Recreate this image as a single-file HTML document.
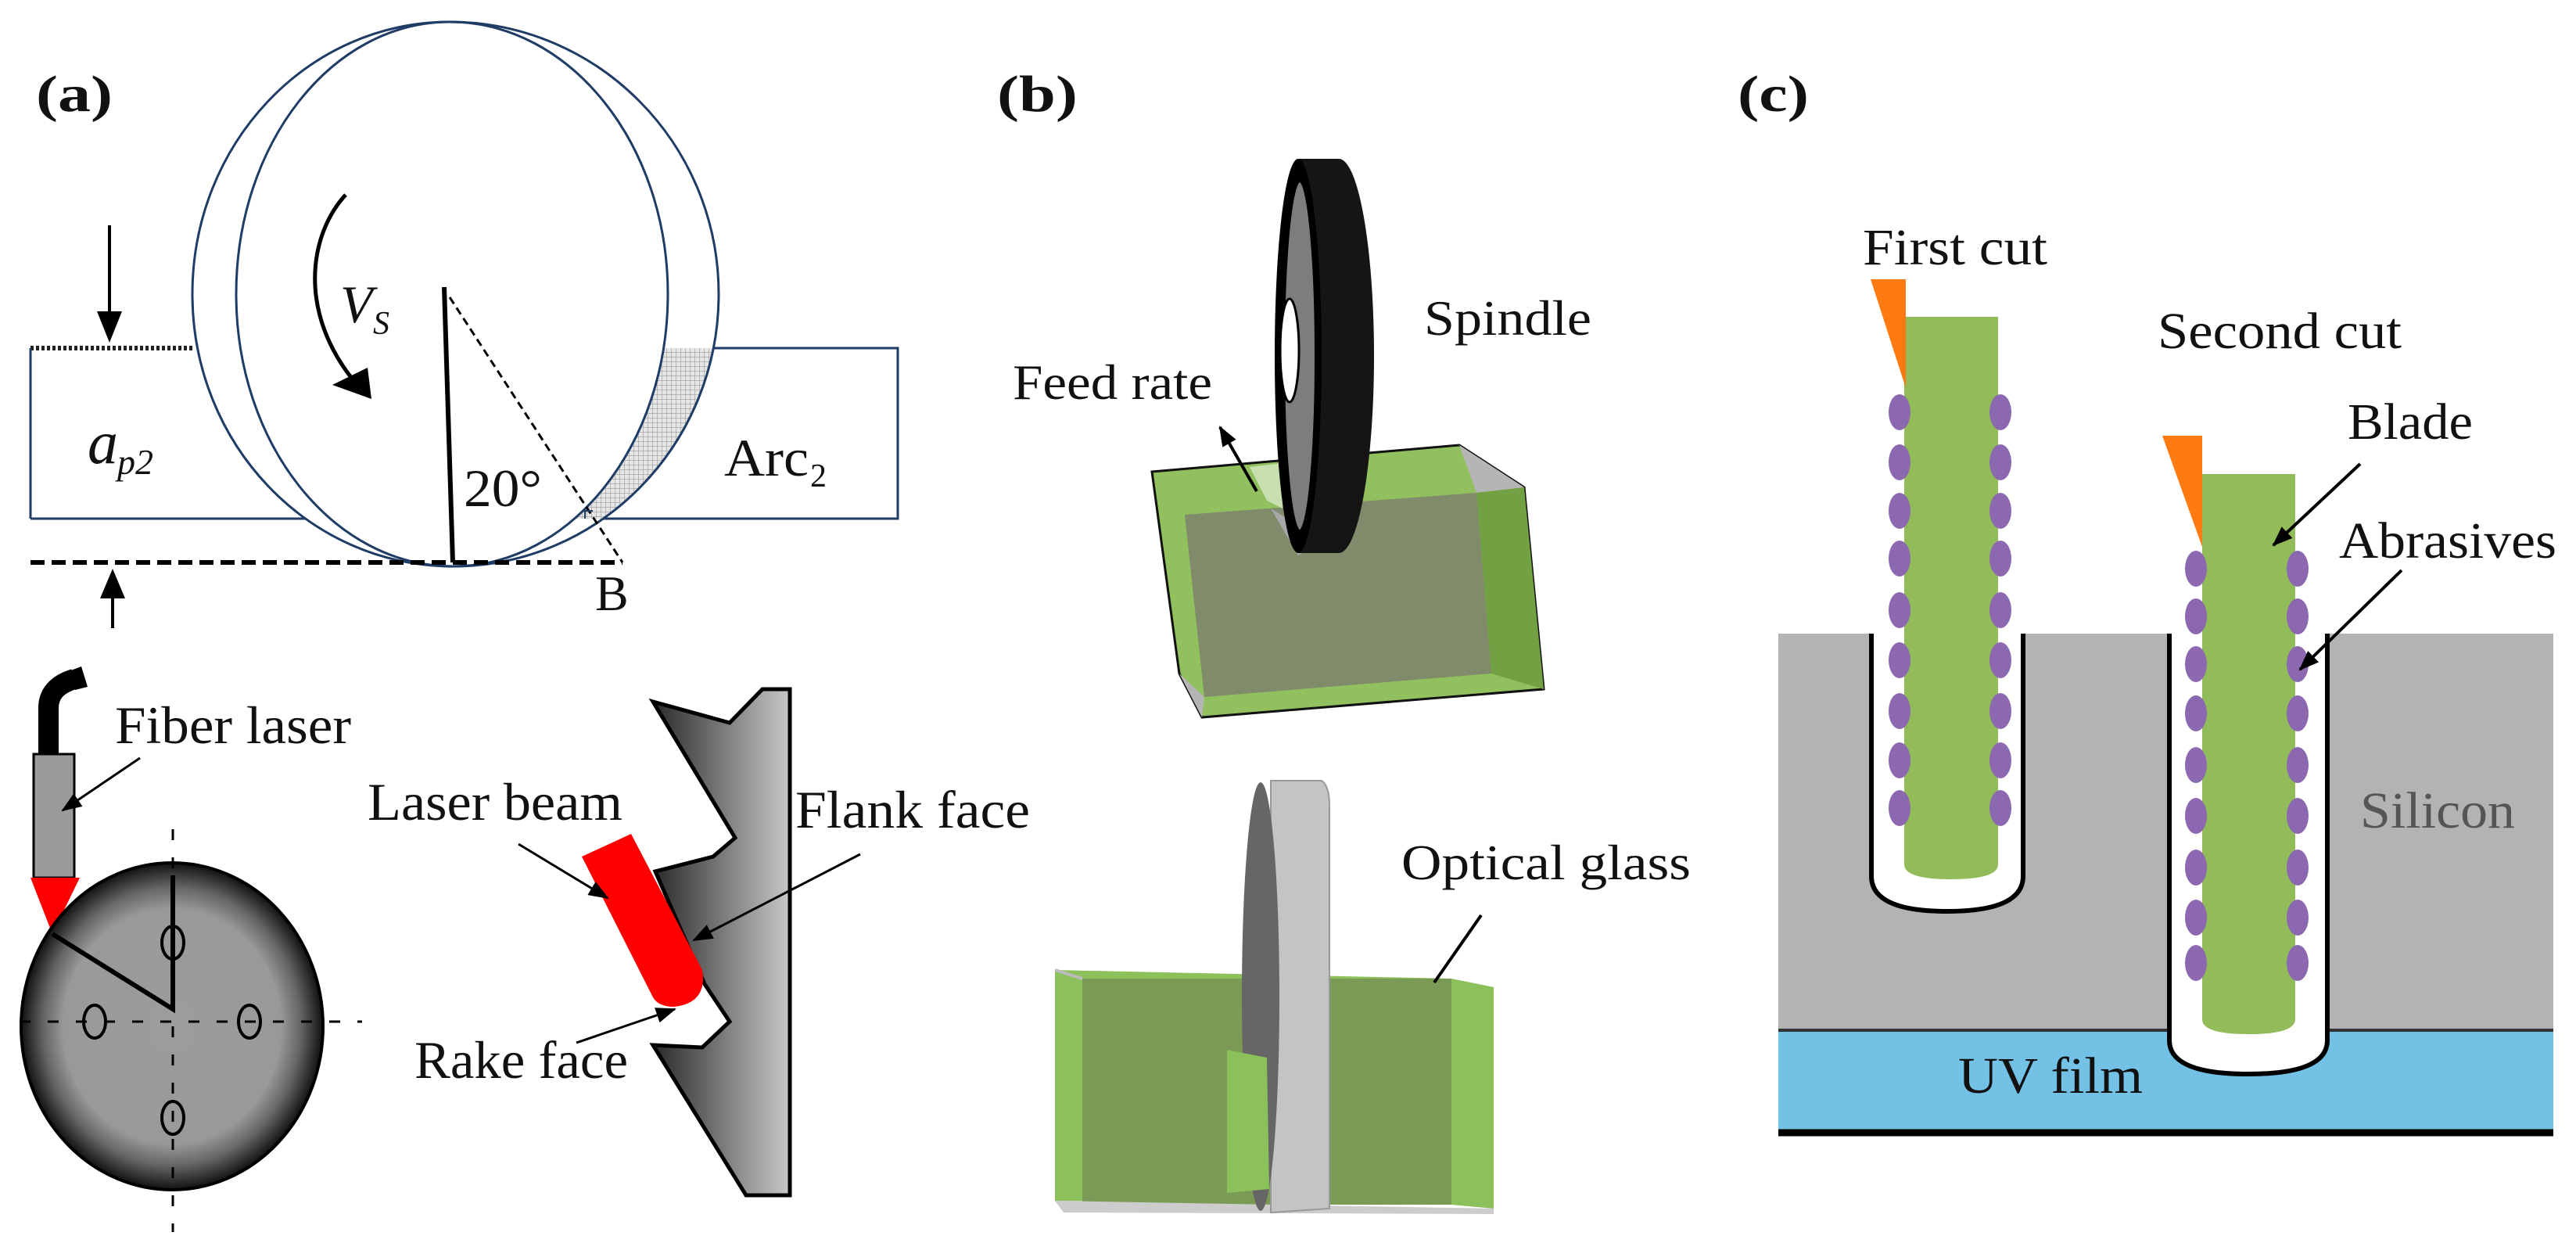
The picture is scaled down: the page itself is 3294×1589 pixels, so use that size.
<!DOCTYPE html>
<html><head><meta charset="utf-8"><style>html,body{margin:0;padding:0;background:#fff}svg{display:block}text{font-family:"Liberation Serif",serif;fill:#111}</style></head>
<body>
<svg width="3294" height="1589" viewBox="0 0 3294 1589" xmlns="http://www.w3.org/2000/svg">
<defs>
<pattern id="hatch" width="6" height="6" patternUnits="userSpaceOnUse"><rect width="6" height="6" fill="#e6e6e6"/><path d="M0,0H6M0,0V6" stroke="#9a9a9a" stroke-width="1.2"/></pattern>
<clipPath id="rectR"><rect x="600" y="445" width="548" height="218"/></clipPath>
<radialGradient id="wheelG" cx="0.5" cy="0.5" r="0.5"><stop offset="0" stop-color="#9c9c9c"/><stop offset="0.72" stop-color="#999"/><stop offset="0.85" stop-color="#666"/><stop offset="1" stop-color="#111"/></radialGradient>
<linearGradient id="toolG" x1="835" y1="0" x2="1010" y2="0" gradientUnits="userSpaceOnUse"><stop offset="0" stop-color="#2a2a2a"/><stop offset="1" stop-color="#c8c8c8"/></linearGradient>
<linearGradient id="rimG" x1="0" y1="0" x2="1" y2="0"><stop offset="0" stop-color="#000"/><stop offset="0.6" stop-color="#222"/><stop offset="1" stop-color="#111"/></linearGradient>
<marker id="ah" markerWidth="26" markerHeight="20" refX="24" refY="10" orient="auto" markerUnits="userSpaceOnUse" viewBox="0 0 26 20"><path d="M0,0L26,10L0,20z" fill="#000"/></marker>
</defs>

<!-- (a) top -->
<text x="46" y="142" font-size="66" font-weight="bold" textLength="98" lengthAdjust="spacingAndGlyphs">(a)</text>
<line x1="39" y1="445" x2="249" y2="445" stroke="#222" stroke-width="6" stroke-dasharray="4,3"/>
<line x1="39" y1="445" x2="39" y2="663" stroke="#1f3c66" stroke-width="3"/>
<line x1="39" y1="663" x2="420" y2="663" stroke="#1f3c66" stroke-width="3"/>
<polyline points="700,445 1148,445 1148,663 700,663" fill="none" stroke="#1f3c66" stroke-width="3"/>
<path d="M575,28 C765,28 919,184 919,376 C919,568 767,724 579,724 C426,724 302,568 302,376 C302,184 424,28 575,28 Z" fill="#fff"/>
<path d="M575,28 C765,28 919,184 919,376 C919,568 767,724 579,724 C426,724 302,568 302,376 C302,184 424,28 575,28 Z" fill="url(#hatch)" clip-path="url(#rectR)"/>
<path d="M575,28 C729,28 854,184 854,376 C854,568 731,724 579,724 C395,724 246,568 246,376 C246,184 393,28 575,28 Z" fill="#fff"/>
<path d="M575,28 C765,28 919,184 919,376 C919,568 767,724 579,724 C426,724 302,568 302,376 C302,184 424,28 575,28 Z" fill="none" stroke="#1f3c66" stroke-width="3"/>
<path d="M575,28 C729,28 854,184 854,376 C854,568 731,724 579,724 C395,724 246,568 246,376 C246,184 393,28 575,28 Z" fill="none" stroke="#1f3c66" stroke-width="3"/>
<line x1="39" y1="719" x2="796" y2="719" stroke="#000" stroke-width="6" stroke-dasharray="18,9"/>
<line x1="568" y1="367" x2="579" y2="719" stroke="#000" stroke-width="6"/>
<line x1="575" y1="380" x2="796" y2="719" stroke="#000" stroke-width="3" stroke-dasharray="10,6"/>
<path d="M748,663 l0,-10 l10,0" fill="none" stroke="#1f3c66" stroke-width="2"/>
<line x1="140" y1="288" x2="140" y2="400" stroke="#000" stroke-width="4"/>
<path d="M124,398 L156,398 L140,438 Z" fill="#000"/>
<line x1="144" y1="765" x2="144" y2="803" stroke="#000" stroke-width="4"/>
<path d="M128,765 L160,765 L144,727 Z" fill="#000"/>
<path d="M442,249 C395,300 380,400 455,490" fill="none" stroke="#000" stroke-width="5"/>
<path d="M425,492 L470,470 L475,510 Z" fill="#000"/>
<text x="435" y="412" font-size="68" font-style="italic">V</text>
<text x="477" y="427" font-size="42" font-style="italic">S</text>
<text x="112" y="592" font-size="78" font-style="italic">a</text>
<text x="150" y="606" font-size="46" font-style="italic">p2</text>
<text x="593" y="647" font-size="68" textLength="100" lengthAdjust="spacingAndGlyphs">20°</text>
<text x="926" y="608" font-size="68" textLength="108" lengthAdjust="spacingAndGlyphs">Arc</text>
<text x="1036" y="622" font-size="42">2</text>
<text x="761" y="780" font-size="64">B</text>

<!-- (a) bottom -->
<path d="M62,964 L62,905 Q62,878 95,868" fill="none" stroke="#000" stroke-width="26"/>
<path d="M88,858 L104,852 L112,878 L96,882 Z" fill="#000"/>
<rect x="43" y="964" width="52" height="158" fill="#9a9a9a" stroke="#000" stroke-width="3"/>
<path d="M39,1122 L102,1122 L67,1194 Z" fill="#f00"/>
<ellipse cx="220" cy="1312" rx="193" ry="209" fill="url(#wheelG)" stroke="#000" stroke-width="4"/>
<line x1="221" y1="1060" x2="221" y2="1575" stroke="#000" stroke-width="3" stroke-dasharray="14,22"/>
<line x1="25" y1="1306" x2="463" y2="1306" stroke="#000" stroke-width="3" stroke-dasharray="14,22"/>
<g fill="none" stroke="#000" stroke-width="4">
<ellipse cx="221" cy="1205" rx="14" ry="21"/><ellipse cx="121" cy="1306" rx="14" ry="21"/><ellipse cx="319" cy="1306" rx="14" ry="21"/><ellipse cx="221" cy="1429" rx="14" ry="21"/>
</g>
<polyline points="67,1194 221,1290 221,1119" fill="none" stroke="#000" stroke-width="6"/>
<text x="147" y="950" font-size="68" textLength="302" lengthAdjust="spacingAndGlyphs">Fiber laser</text>
<line x1="179" y1="969" x2="80" y2="1036" stroke="#000" stroke-width="3" marker-end="url(#ah)"/>

<path d="M835,897 L933,924 L975,881 L1010,881 L1010,1528 L954,1528 L835,1336 L898,1339 L933,1306 L901,1258 L838,1114 L912,1095 L940,1071 Z" fill="url(#toolG)" stroke="#000" stroke-width="5"/>
<path d="M744,1095 L807,1066 L898,1240 Q905,1282 862,1287 Q842,1287 835,1275 Z" fill="#f00"/>
<text x="470" y="1048" font-size="68" textLength="326" lengthAdjust="spacingAndGlyphs">Laser beam</text>
<line x1="663" y1="1079" x2="777" y2="1148" stroke="#000" stroke-width="3" marker-end="url(#ah)"/>
<text x="1017" y="1058" font-size="68" textLength="300" lengthAdjust="spacingAndGlyphs">Flank face</text>
<line x1="1100" y1="1092" x2="887" y2="1202" stroke="#000" stroke-width="3" marker-end="url(#ah)"/>
<text x="530" y="1378" font-size="68" textLength="273" lengthAdjust="spacingAndGlyphs">Rake face</text>
<line x1="737" y1="1333" x2="863" y2="1290" stroke="#000" stroke-width="3" marker-end="url(#ah)"/>

<!-- (b) -->
<text x="1275" y="142" font-size="66" font-weight="bold" textLength="103" lengthAdjust="spacingAndGlyphs">(b)</text>
<path d="M1473,603 L1866,569 L1949,623 L1974,881 L1537,917 L1508,861 Z" fill="#92c05e" stroke="#111" stroke-width="3"/>
<path d="M1866,569 L1949,623 L1888,630 Z" fill="#b5b5b5"/>
<path d="M1888,630 L1949,623 L1974,881 L1907,861 Z" fill="#72a043"/>
<path d="M1515,658 L1888,630 L1907,861 L1540,891 Z" fill="#7f8b6b"/>
<path d="M1508,861 L1540,891 L1537,917 Z" fill="#b5b5b5"/>
<path d="M1598,597 L1640,592 L1640,650 L1620,640 Z" fill="#c8e0b0"/>
<path d="M1625,650 L1660,710 L1690,690 Z" fill="#a8a8a8"/>
<ellipse cx="1712" cy="455" rx="45" ry="252" fill="#151515"/>
<path d="M1660,203 L1712,203 L1712,707 L1660,707 Z" fill="#151515"/>
<ellipse cx="1660" cy="455" rx="30" ry="252" fill="#000"/>
<ellipse cx="1662" cy="455" rx="21" ry="224" fill="#7d7d7d" stroke="#000" stroke-width="4"/>
<ellipse cx="1649" cy="448" rx="12" ry="66" fill="#fff" stroke="#000" stroke-width="3"/>
<line x1="1607" y1="628" x2="1560" y2="546" stroke="#000" stroke-width="4" marker-end="url(#ah)"/>
<text x="1821" y="428" font-size="64" textLength="214" lengthAdjust="spacingAndGlyphs">Spindle</text>
<text x="1295" y="510" font-size="64" textLength="255" lengthAdjust="spacingAndGlyphs">Feed rate</text>

<path d="M1349,1240 L1856,1251 L1856,1540 L1349,1535 Z" fill="#8cc05a"/>
<path d="M1384,1251 L1856,1251 L1856,1540 L1384,1540 Z" fill="#7a9a56"/>
<path d="M1856,1251 L1910,1262 L1910,1545 L1856,1540 Z" fill="#8cc05a"/>
<path d="M1349,1240 L1384,1251" stroke="#bbb" stroke-width="4"/>
<path d="M1349,1535 L1910,1545 L1910,1552 L1360,1550 Z" fill="#ccc"/>
<path d="M1625,998 L1690,998 Q1700,1005 1700,1030 L1700,1545 L1625,1550 Z" fill="#c4c4c4" stroke="#999" stroke-width="2"/>
<ellipse cx="1612" cy="1274" rx="24" ry="274" fill="#666"/>
<path d="M1569,1342 L1620,1352 L1623,1520 L1569,1525 Z" fill="#8cc05a"/>
<line x1="1894" y1="1170" x2="1834" y2="1256" stroke="#000" stroke-width="4"/>
<text x="1792" y="1124" font-size="64" textLength="370" lengthAdjust="spacingAndGlyphs">Optical glass</text>

<!-- (c) -->
<text x="2222" y="142" font-size="66" font-weight="bold" textLength="91" lengthAdjust="spacingAndGlyphs">(c)</text>
<rect x="2274" y="810" width="991" height="507" fill="#b3b3b3"/>
<rect x="2274" y="1317" width="991" height="128" fill="#73c2e6"/>
<line x1="2274" y1="1317" x2="3265" y2="1317" stroke="#333" stroke-width="4"/>
<line x1="2274" y1="1448" x2="3265" y2="1448" stroke="#000" stroke-width="9"/>
<path d="M2393,810 L2393,1120 Q2393,1165 2490,1165 Q2587,1165 2587,1120 L2587,810" fill="#fff" stroke="#000" stroke-width="6"/>
<path d="M2774,810 L2774,1330 Q2774,1373 2875,1373 Q2976,1373 2976,1330 L2976,810" fill="#fff" stroke="#000" stroke-width="6"/>
<path d="M2435,405 L2555,405 L2555,1105 Q2555,1124 2495,1124 Q2435,1124 2435,1105 Z" fill="#92bb5a"/>
<path d="M2816,606 L2935,606 L2935,1303 Q2935,1322 2875,1322 Q2816,1322 2816,1303 Z" fill="#92bb5a"/>
<path d="M2392,357 L2437,357 L2437,496 Z" fill="#ff7a10"/>
<path d="M2765,557 L2816,557 L2816,699 Z" fill="#ff7a10"/>
<g fill="#8b68b0">
<ellipse cx="2429" cy="527" rx="14" ry="23"/><ellipse cx="2429" cy="591" rx="14" ry="23"/><ellipse cx="2429" cy="653" rx="14" ry="23"/><ellipse cx="2429" cy="714" rx="14" ry="23"/><ellipse cx="2429" cy="780" rx="14" ry="23"/><ellipse cx="2429" cy="844" rx="14" ry="23"/><ellipse cx="2429" cy="909" rx="14" ry="23"/><ellipse cx="2429" cy="972" rx="14" ry="23"/><ellipse cx="2429" cy="1033" rx="14" ry="23"/>
<ellipse cx="2558" cy="527" rx="14" ry="23"/><ellipse cx="2558" cy="591" rx="14" ry="23"/><ellipse cx="2558" cy="653" rx="14" ry="23"/><ellipse cx="2558" cy="714" rx="14" ry="23"/><ellipse cx="2558" cy="780" rx="14" ry="23"/><ellipse cx="2558" cy="844" rx="14" ry="23"/><ellipse cx="2558" cy="909" rx="14" ry="23"/><ellipse cx="2558" cy="972" rx="14" ry="23"/><ellipse cx="2558" cy="1033" rx="14" ry="23"/>
<ellipse cx="2808" cy="727" rx="14" ry="23"/><ellipse cx="2808" cy="788" rx="14" ry="23"/><ellipse cx="2808" cy="849" rx="14" ry="23"/><ellipse cx="2808" cy="912" rx="14" ry="23"/><ellipse cx="2808" cy="978" rx="14" ry="23"/><ellipse cx="2808" cy="1043" rx="14" ry="23"/><ellipse cx="2808" cy="1109" rx="14" ry="23"/><ellipse cx="2808" cy="1173" rx="14" ry="23"/><ellipse cx="2808" cy="1231" rx="14" ry="23"/>
<ellipse cx="2938" cy="727" rx="14" ry="23"/><ellipse cx="2938" cy="788" rx="14" ry="23"/><ellipse cx="2938" cy="849" rx="14" ry="23"/><ellipse cx="2938" cy="912" rx="14" ry="23"/><ellipse cx="2938" cy="978" rx="14" ry="23"/><ellipse cx="2938" cy="1043" rx="14" ry="23"/><ellipse cx="2938" cy="1109" rx="14" ry="23"/><ellipse cx="2938" cy="1173" rx="14" ry="23"/><ellipse cx="2938" cy="1231" rx="14" ry="23"/>
</g>
<text x="2382" y="338" font-size="66" textLength="236" lengthAdjust="spacingAndGlyphs">First cut</text>
<text x="2759" y="445" font-size="66" textLength="312" lengthAdjust="spacingAndGlyphs">Second cut</text>
<text x="3002" y="561" font-size="66" textLength="160" lengthAdjust="spacingAndGlyphs">Blade</text>
<text x="2991" y="713" font-size="66" textLength="278" lengthAdjust="spacingAndGlyphs">Abrasives</text>
<text x="3018" y="1058" font-size="66" textLength="198" lengthAdjust="spacingAndGlyphs" style="fill:#555">Silicon</text>
<text x="2504" y="1397" font-size="66" textLength="236" lengthAdjust="spacingAndGlyphs">UV film</text>
<line x1="3018" y1="593" x2="2907" y2="697" stroke="#000" stroke-width="4" marker-end="url(#ah)"/>
<line x1="3071" y1="729" x2="2941" y2="856" stroke="#000" stroke-width="4" marker-end="url(#ah)"/>
</svg>
</body></html>
